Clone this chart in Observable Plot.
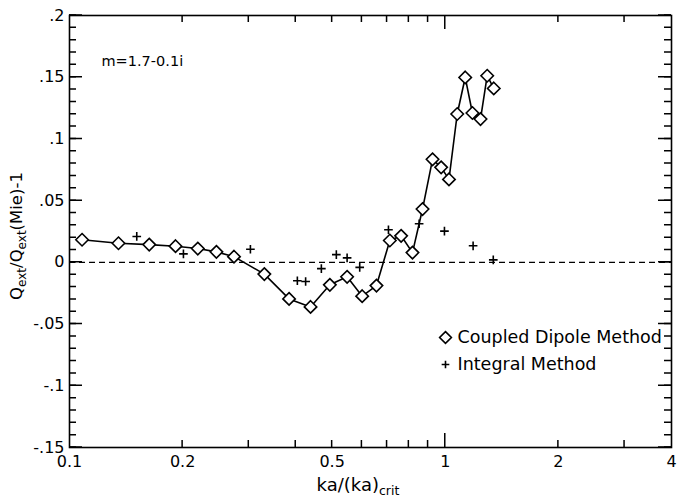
<!DOCTYPE html>
<html>
<head>
<meta charset="utf-8">
<script src="https://cdn.jsdelivr.net/npm/d3@7"></script>
<script src="https://cdn.jsdelivr.net/npm/@observablehq/plot@0.6"></script>
<style>
  html, body { margin: 0; padding: 0; background: #fff; }
  #chart { width: 679px; height: 499px; }
  svg { font-family: "DejaVu Sans", sans-serif; }
</style>
</head>
<body>
<div id="chart"></div>
<script>
// Relative error of the extinction efficiency against Mie theory, m = 1.7 - 0.1i
const dipoleX = [0.108, 0.135, 0.163, 0.1915, 0.2195, 0.246, 0.274, 0.330, 0.384, 0.438,
  0.493, 0.548, 0.601, 0.656, 0.712, 0.763, 0.818, 0.870, 0.925, 0.975,
  1.023, 1.076, 1.130, 1.181, 1.241, 1.293, 1.346];
const dipoleY = [0.0183, 0.0155, 0.0144, 0.0131, 0.0112, 0.0085, 0.0046, -0.0095, -0.0296, -0.0361,
  -0.0182, -0.0117, -0.0274, -0.0188, 0.0177, 0.0215, 0.0079, 0.0432, 0.0835, 0.0770,
  0.0672, 0.1202, 0.1498, 0.1210, 0.1161, 0.1512, 0.1409];

const integralX = [0.151, 0.201, 0.303, 0.404, 0.425, 0.468, 0.513, 0.548, 0.592,
  0.706, 0.852, 0.995, 1.186, 1.342];
const integralY = [0.0210, 0.0069, 0.0106, -0.0149, -0.0155, -0.0051, 0.0063, 0.0036, -0.0041,
  0.0264, 0.0313, 0.0253, 0.0134, 0.0020];

const xLabelTicks = [0.1, 0.2, 0.5, 1, 2, 4];
const xLabelText = ["0.1", "0.2", "0.5", "1", "2", "4"];
const xMinorTicks = [0.2, 0.3, 0.4, 0.5, 0.6, 0.7, 0.8, 0.9, 2, 3];
const xMajorTicks = [1];

const yLabelTicks = [0.2, 0.15, 0.1, 0.05, 0, -0.05, -0.1, -0.15];
const yLabelText = [".2", ".15", ".1", ".05", "0", "-.05", "-.1", "-.15"];
const yMinorTicks = d3.range(-15, 21).map(d => d / 100);

const dipole = dipoleX.map((x, i) => ({x, y: dipoleY[i]}));
const integral = integralX.map((x, i) => ({x, y: integralY[i]}));

const W = 679, H = 499;
const mLeft = 69, mRight = 8, mTop = 15, mBottom = 52;
const font = 16;
const tw = 1.5;

const chart = Plot.plot({
  width: W,
  height: H,
  marginLeft: mLeft,
  marginRight: mRight,
  marginTop: mTop,
  marginBottom: mBottom,
  style: {fontFamily: "DejaVu Sans, sans-serif", fontSize: font + "px", color: "black", background: "white"},
  x: {type: "log", domain: [0.1, 4], axis: null},
  y: {domain: [-0.15, 0.2], axis: null},
  marks: [
    Plot.frame({fill: "none", stroke: "black", strokeWidth: 1.6}),
    Plot.axisX({anchor: "bottom", ticks: xLabelTicks, tickSize: 0, tickPadding: 8,
      tickFormat: d => xLabelText[xLabelTicks.indexOf(d)], label: null, fontSize: font}),
    Plot.axisY({anchor: "left", ticks: yLabelTicks, tickSize: 0, tickPadding: 5,
      tickFormat: d => yLabelText[yLabelTicks.indexOf(d)], label: null, fontSize: font}),
    // Mie reference level
    Plot.ruleY([0], {strokeDasharray: "6,4", strokeWidth: 1.2}),
    // coupled dipole results
    Plot.line(dipole, {x: "x", y: "y", stroke: "black", strokeWidth: 1.6}),
    Plot.dot(dipole, {x: "x", y: "y", symbol: "diamond2", r: 5.6, fill: "white", stroke: "black", strokeWidth: 1.6}),
    // integral method results
    Plot.dot(integral, {x: "x", y: "y", symbol: "plus", r: 2.9, stroke: "black", strokeWidth: 1.6}),
    // refractive index note
    Plot.text(["m=1.7-0.1i"], {text: d => d, frameAnchor: "top-left", lineAnchor: "middle",
      dx: 101 - mLeft, dy: 61 - mTop, textAnchor: "start", fontSize: 14.5}),
    // legend
    Plot.dot([0], {frameAnchor: "top-left", dx: 445 - mLeft, dy: 337 - mTop, symbol: "diamond2", r: 5.3,
      fill: "white", stroke: "black", strokeWidth: 1.6}),
    Plot.text(["Coupled Dipole Method"], {text: d => d, frameAnchor: "top-left", lineAnchor: "middle",
      dx: 457 - mLeft, dy: 337 - mTop, textAnchor: "start", fontSize: 17.5}),
    Plot.dot([0], {frameAnchor: "top-left", dx: 445 - mLeft, dy: 364 - mTop, symbol: "plus", r: 2.6,
      stroke: "black", strokeWidth: 1.6}),
    Plot.text(["Integral Method"], {text: d => d, frameAnchor: "top-left", lineAnchor: "middle",
      dx: 457 - mLeft, dy: 364 - mTop, textAnchor: "start", fontSize: 17.5})
  ]
});

document.getElementById("chart").appendChild(chart);

const svg = d3.select(chart);

// inward tick marks on all four sides, placed with the plot's own scales
const sx = chart.scale("x"), sy = chart.scale("y");
const tickGroup = svg.append("g")
  .attr("stroke", "black")
  .attr("stroke-width", tw)
  .attr("fill", "none");
const x0 = mLeft, x1 = W - mRight, y0 = mTop, y1 = H - mBottom;
const addXTicks = (ticks, len) => ticks.forEach(t => {
  const px = sx.apply(t);
  tickGroup.append("path").attr("d", `M${px},${y1}V${y1 - len}M${px},${y0}V${y0 + len}`);
});
const addYTicks = (ticks, len) => ticks.forEach(t => {
  const py = sy.apply(t);
  tickGroup.append("path").attr("d", `M${x0},${py}H${x0 + len}M${x1},${py}H${x1 - len}`);
});
addXTicks(xMinorTicks, 7);
addXTicks(xMajorTicks, 14);
addYTicks(yMinorTicks, 7);
addYTicks(yLabelTicks, 13);

// axis titles with subscripts
const yTitle = svg.append("text")
  .attr("transform", "translate(22,236) rotate(-90)")
  .attr("text-anchor", "middle")
  .attr("font-size", 16.5)
  .attr("fill", "black");
yTitle.append("tspan").text("Q");
yTitle.append("tspan").attr("font-size", 12).attr("dy", 4).text("ext");
yTitle.append("tspan").attr("dy", -4).text("/Q");
yTitle.append("tspan").attr("font-size", 12).attr("dy", 4).text("ext");
yTitle.append("tspan").attr("dy", -4).text("(Mie)-1");

const xTitle = svg.append("text")
  .attr("x", 358)
  .attr("y", 491)
  .attr("text-anchor", "middle")
  .attr("font-size", 18)
  .attr("fill", "black");
xTitle.append("tspan").text("ka/(ka)");
xTitle.append("tspan").attr("font-size", 12.5).attr("dy", 3.5).text("crit");
</script>
</body>
</html>
